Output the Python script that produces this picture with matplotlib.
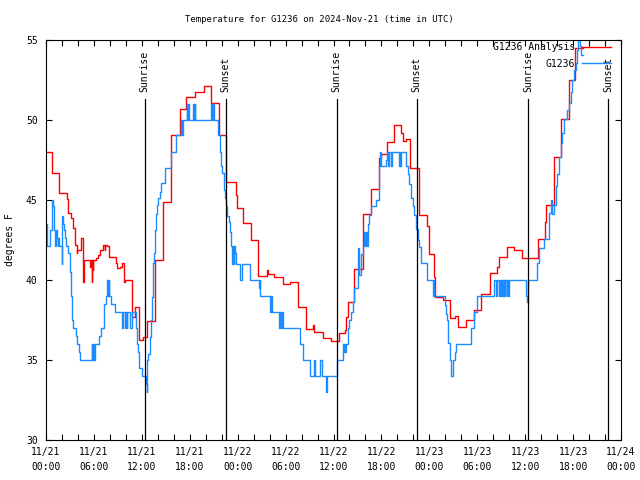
import matplotlib
matplotlib.use("Agg")
import matplotlib.pyplot as plt
from matplotlib.ticker import MultipleLocator, FixedLocator

plt.rcParams['font.family'] = ['DejaVu Sans Mono']

# hours since 2024-11-21 00:00 UTC
analysis_t = [0.0, 0.71, 1.67, 2.58, 2.79, 3.08, 3.33, 3.625, 3.83, 3.92, 4.375, 4.6, 4.75,
              5.5, 5.6, 5.7, 5.8, 5.85, 5.92, 6.2, 6.54, 6.75, 7.17, 7.375, 7.45, 7.58, 7.875,
              8.75, 8.92, 9.25, 9.46, 9.79, 9.95, 10.75, 10.83, 11.125, 11.67, 12.17, 12.67,
              13.71, 14.67, 15.71, 16.75, 17.58, 18.625, 19.79, 20.7, 21.6, 22.55, 23.75, 23.9,
              24.67, 25.65, 26.5, 26.6, 27.7, 27.85, 28.6, 29.7, 30.6, 31.55, 32.6, 33.45, 33.6,
              34.7, 35.7, 36.75, 37.4, 37.6, 37.8, 38.6, 39.7, 40.7, 41.75, 41.9, 42.67, 43.6,
              44.5, 44.75, 45.05, 45.6, 46.67, 47.7, 47.9, 48.55, 48.7, 49.67, 50.55, 51.2,
              51.55, 52.55, 53.55, 54.5, 55.6, 56.5, 56.75, 57.67, 58.6, 59.55, 61.55, 62.5,
              62.65, 63.6, 64.5, 65.55, 66.3, 67.25]
analysis_v = [48.0, 46.67, 45.42, 45.04, 44.17, 43.85, 43.27, 42.19, 41.67, 41.875, 42.6, 39.9, 41.25,
              40.8, 41.25, 39.9, 41.25, 40.6, 41.25, 41.35, 41.56, 41.875, 42.19, 41.875, 42.19, 42.1, 41.46,
              41.04, 40.73, 40.83, 41.08, 39.9, 40.0, 37.9, 37.7, 38.33, 36.25, 36.46, 37.46,
              41.25, 44.9, 49.06, 50.67, 51.46, 51.77, 52.125, 51.04, 49.06, 46.15, 45.3, 44.48,
              43.54, 42.5, 41.46, 40.27, 40.6, 40.35, 40.2, 39.75, 39.9, 38.3, 36.94, 37.2, 36.77,
              36.35, 36.2, 36.67, 36.875, 37.7, 38.65, 40.67, 44.1, 45.67, 47.6, 47.9, 48.6, 49.69,
              49.17, 48.7, 48.8, 46.98, 44.06, 43.4, 41.6, 40.2, 38.96, 38.75, 37.6, 37.77,
              37.08, 37.5, 38.125, 39.125, 40.42, 40.8, 41.46, 42.08, 41.875, 41.35, 42.54, 43.65,
              44.7, 47.67, 50.04, 52.5, 54.5, 54.5]

station_t = [0.0, 0.17, 0.5, 0.71, 0.75, 0.8, 0.9, 1.0, 1.125, 1.25, 1.33, 1.45, 1.55, 1.67, 1.96,
             2.04, 2.17, 2.25, 2.375, 2.5, 2.79, 3.0, 3.125, 3.29, 3.42, 3.75, 3.92, 4.17, 4.25,
             5.71, 5.8, 5.9, 6.0, 6.125, 6.67, 6.83, 7.25, 7.46, 7.67, 7.75, 7.85, 7.95, 8.08,
             8.2, 8.7, 9.46, 9.55, 9.7, 9.9, 10.0, 10.1, 10.2, 10.5, 10.71, 11.33, 11.45, 11.54,
             11.62, 11.67, 12.08, 12.55, 12.6, 12.65, 12.7, 12.8, 13.0, 13.2, 13.33, 13.4, 13.5,
             13.6, 13.75, 13.92, 14.0, 14.25, 14.46, 14.9, 15.7, 16.25, 16.96, 17.05, 17.15,
             17.6, 17.7, 17.8, 17.9, 18.0, 18.4, 18.5, 18.6, 18.7, 18.8, 20.7, 20.8, 20.9, 21.0,
             21.1, 21.5, 21.75, 21.96, 22.08, 22.25, 22.46, 22.58, 22.7, 22.9, 23.1, 23.2, 23.35,
             23.4, 23.5, 23.55, 23.7, 23.83, 24.25, 24.5, 25.5, 26.67, 26.75, 26.83, 28.0, 28.15,
             28.3, 29.2, 29.3, 29.4, 29.5, 29.67, 31.75, 32.17, 33.08, 33.6, 33.7, 34.25, 34.5,
             35.08, 35.15, 36.42, 37.17, 37.2, 37.3, 37.4, 37.5, 37.58, 37.8, 38.0, 38.2, 38.4,
             38.6, 39.04, 39.1, 39.15, 39.25, 39.45, 39.67, 39.875, 40.0, 40.1, 40.2, 40.3, 40.5,
             40.7, 41.33, 41.67, 41.75, 41.83, 41.9, 41.95, 42.0, 42.6, 42.75, 42.8, 42.9, 43.2,
             43.3, 44.25, 44.3, 44.35, 44.4, 45.08, 45.3, 45.5, 45.7, 45.9, 46.1, 46.33, 46.54,
             46.75, 46.96, 47.67, 48.4, 48.45, 48.5, 48.55, 48.6, 49.96, 50.1, 50.25, 50.4, 50.6,
             50.7, 51.0, 51.2, 51.4, 53.2, 53.6, 54.0, 56.1, 56.35, 56.45, 56.7, 56.8, 57.0, 57.05,
             57.2, 57.25, 57.3, 57.35, 57.45, 57.5, 57.7, 57.75, 57.9, 57.95, 60.08, 60.2, 60.3,
             60.4, 61.54, 61.75, 62.375, 63.0, 63.2, 63.42, 63.625, 63.92, 64.04, 64.25, 64.46,
             64.67, 64.875, 65.3, 65.5, 65.7, 65.9, 66.125, 66.33, 66.54, 66.67, 66.83, 66.96, 67.25]
station_v = [43.5, 42.1, 43.1, 45.0, 44.6, 45.0, 44.6, 43.1, 42.1, 43.1, 42.6, 42.1, 42.6, 42.1, 41.0,
             44.0, 43.5, 43.1, 42.6, 42.1, 41.7, 40.5, 39.0, 37.5, 37.0, 36.5, 36.0, 35.5, 35.0,
             36.0, 35.0, 36.0, 35.0, 36.0, 36.5, 37.0, 38.5, 39.0, 40.0, 39.0, 40.0, 39.0, 39.0,
             38.5, 38.0, 37.5, 37.0, 38.0, 37.0, 38.0, 37.0, 38.0, 37.0, 38.0, 37.0, 36.0, 35.5,
             35.0, 34.5, 34.0, 33.5, 33.0, 34.0, 35.0, 35.4, 36.46, 37.5, 38.96, 41.04, 41.67,
             43.1, 44.15, 44.7, 45.1, 45.5, 46.04, 47.0, 48.0, 49.06, 50.0, 49.06, 50.0,
             51.0, 50.0, 51.0, 50.0, 50.0, 51.0, 50.0, 51.0, 50.0, 50.0, 51.0, 50.0, 51.0, 50.0,
             50.0, 49.06, 48.0, 47.1, 46.7, 45.6, 45.1, 44.6, 44.0, 43.6, 43.0, 42.1, 41.0,
             42.1, 41.0, 42.1, 41.7, 41.0, 40.0, 41.0, 40.0, 39.5, 40.0, 39.0, 38.0, 39.0,
             38.0, 37.0, 38.0, 37.0, 38.0, 37.0, 36.0, 35.0, 34.0, 35.0, 34.0, 35.0, 34.0,
             33.0, 34.0, 35.0, 35.5, 36.0, 35.5, 36.0, 35.5, 36.0, 37.0, 37.5, 38.0, 38.6,
             39.5, 40.5, 42.0, 41.0, 40.3, 41.6, 42.1, 43.0, 42.1, 43.0, 42.1, 43.5, 44.06,
             44.6, 45.0, 46.0, 47.1, 48.0, 47.1, 48.0, 47.1, 47.5, 48.0, 47.1, 48.0, 47.1,
             48.0, 47.1, 48.0, 47.1, 48.0, 47.1, 46.6, 46.0, 45.1, 44.6, 44.06, 43.2, 42.5,
             42.06, 41.04, 40.0, 39.6, 40.0, 39.0, 40.0, 39.0, 38.44, 37.9, 37.5, 36.04, 35.0,
             34.0, 35.0, 35.5, 36.0, 37.0, 38.0, 39.0, 40.0, 39.0, 40.0, 39.0, 40.0, 39.0, 40.0,
             39.0, 40.0, 39.0, 40.0, 39.0, 40.0, 39.0, 40.0, 39.0, 40.0, 39.0, 38.6, 39.0,
             40.0, 41.04, 42.0, 42.54, 44.2, 45.0, 44.1, 44.7, 45.9, 46.6, 47.67, 48.54,
             49.17, 50.04, 50.6, 51.04, 51.77, 52.5, 53.1, 53.54, 54.375, 55.0, 54.6, 54.06, 54.06]

sun_labels = ["Sunrise", "Sunset", "Sunrise", "Sunset", "Sunrise", "Sunset"]
sun_times = [12.38, 22.5, 36.4, 46.4, 60.4, 70.4]

tick_hours = [0, 6, 12, 18, 24, 30, 36, 42, 48, 54, 60, 66, 72]
tick_labels = ["11/21\n00:00", "11/21\n06:00", "11/21\n12:00", "11/21\n18:00",
               "11/22\n00:00", "11/22\n06:00", "11/22\n12:00", "11/22\n18:00",
               "11/23\n00:00", "11/23\n06:00", "11/23\n12:00", "11/23\n18:00",
               "11/24\n00:00"]

FS = 7
fig = plt.figure(figsize=(6.4, 4.8), dpi=100)
ax = fig.add_axes([46/640, 40/480, 575/640, 400/480])

ax.plot(analysis_t, analysis_v, drawstyle='steps-post', color='#ff0000', lw=1.0,
        label='G1236 Analysis')
ax.plot(station_t, station_v, drawstyle='steps-post', color='#1a8cff', lw=1.0,
        label='G1236')

for lab, t in zip(sun_labels, sun_times):
    ax.axvline(t, ymin=0, ymax=(440-99)/400, color='black', lw=0.9)
    ax.text(t, 1 - (92-40)/400, lab, transform=ax.get_xaxis_transform(), rotation=90,
            ha='center', va='bottom', fontsize=FS)

ax.set_xlim(0, 72)
ax.set_ylim(30, 55)
ax.xaxis.set_major_locator(FixedLocator(tick_hours))
ax.set_xticklabels(tick_labels, fontsize=FS, linespacing=1.6)
ax.xaxis.set_minor_locator(MultipleLocator(2))
ax.yaxis.set_major_locator(MultipleLocator(5))
ax.tick_params(axis='both', which='both', direction='in', top=True, right=True,
               length=4, width=0.8, labelsize=FS)
ax.tick_params(axis='x', which='major', pad=5)
ax.tick_params(axis='y', which='major', pad=6)
for s in ax.spines.values():
    s.set_linewidth(0.8)

ax.legend(loc='upper right', bbox_to_anchor=((611-46)/575, (440-42)/400), frameon=False,
          markerfirst=False, fontsize=FS, handlelength=3.0, handletextpad=0.7,
          labelspacing=0.7, borderpad=0, borderaxespad=0)

fig.text(319/640, 1 - 19/480, "Temperature for G1236 on 2024-Nov-21 (time in UTC)",
         ha='center', va='center', fontsize=6.4)
fig.text(10/640, 1 - 240/480, "degrees F", rotation=90, ha='center', va='center', fontsize=FS)

fig.savefig("out.png", dpi=100)
